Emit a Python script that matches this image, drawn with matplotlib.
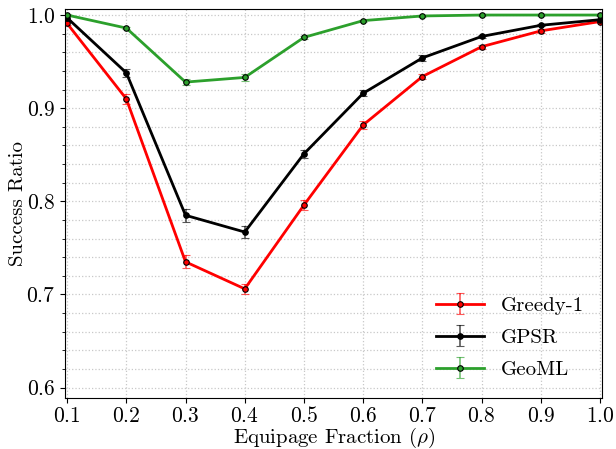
import matplotlib
matplotlib.use("Agg")
import matplotlib.pyplot as plt
import numpy as np
from matplotlib.ticker import MultipleLocator
from matplotlib.colors import to_rgba

plt.rcParams['font.family'] = 'serif'
plt.rcParams['font.serif'] = ['cmr10']
plt.rcParams['mathtext.fontset'] = 'cm'
plt.rcParams['axes.formatter.use_mathtext'] = True

rho = [0.1, 0.2, 0.3, 0.4, 0.5, 0.6, 0.7, 0.8, 0.9, 1.0]

greedy = [0.991, 0.910, 0.735, 0.706, 0.796, 0.882, 0.934, 0.966, 0.983, 0.993]
greedy_err = [0.002, 0.005, 0.007, 0.005, 0.005, 0.004, 0.003, 0.002, 0.002, 0.001]

gpsr = [0.997, 0.938, 0.785, 0.767, 0.851, 0.916, 0.954, 0.977, 0.989, 0.995]
gpsr_err = [0.002, 0.004, 0.007, 0.006, 0.004, 0.003, 0.003, 0.002, 0.001, 0.001]

geoml = [1.000, 0.986, 0.928, 0.933, 0.976, 0.994, 0.999, 1.000, 1.000, 1.000]
geoml_err = [0.001, 0.001, 0.003, 0.004, 0.002, 0.001, 0.001, 0.001, 0.001, 0.001]

series = [
    ("Greedy-1", greedy, greedy_err, "#ff0000"),
    ("GPSR", gpsr, gpsr_err, "black"),
    ("GeoML", geoml, geoml_err, "#2ca02c"),
]

fig, ax = plt.subplots(figsize=(6.16, 4.49), dpi=100)

for name, vals, err, col in series:
    ax.errorbar(rho, vals, yerr=err, color=col, lw=2, marker='o', ms=4,
                mfc=col, mec='black', mew=0.8, ecolor=to_rgba(col, 0.65),
                elinewidth=1.2, capsize=3, label=name)

ax.set_xlim(0.097, 1.004)
ax.set_ylim(0.589, 1.0065)
ax.set_xticks(np.arange(0.1, 1.01, 0.1))
ax.yaxis.set_major_locator(MultipleLocator(0.1))
ax.yaxis.set_minor_locator(MultipleLocator(0.02))
ax.grid(True, which='major', ls=':', color='#c8c8c8', lw=0.9)
ax.grid(True, which='minor', axis='y', ls=':', color='#c8c8c8', lw=0.9)

ax.tick_params(labelsize=15.5)
ax.tick_params(axis='x', pad=2.5)
ax.set_xlabel(r"Equipage Fraction ($\rho$)", fontsize=15)
ax.set_ylabel("Success Ratio", fontsize=15)
ax.xaxis.set_label_coords(0.5, -0.073)
ax.yaxis.set_label_coords(-0.072, 0.5)

for s in ax.spines.values():
    s.set_color('black')

ax.legend(loc='lower right', frameon=False, fontsize=15, bbox_to_anchor=(1.0, 0.0),
          handlelength=2.3, labelspacing=0.65)

fig.subplots_adjust(left=0.106, right=0.978, top=0.98, bottom=0.114)
fig.savefig("out.png")
